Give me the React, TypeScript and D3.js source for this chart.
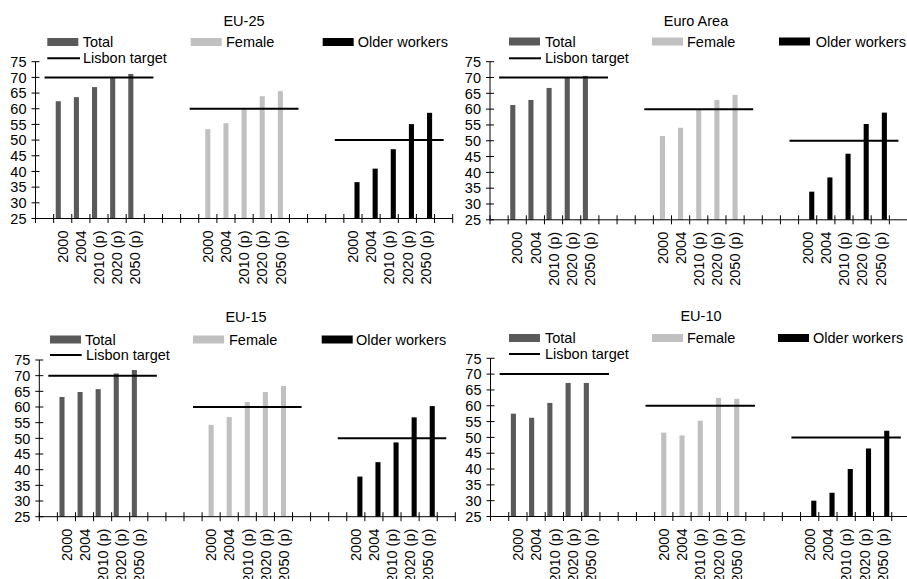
import React from "react";
import * as d3 from "d3";

// Employment rates (%) by year, with the Lisbon targets for each group
const years = ["2000", "2004", "2010 (p)", "2020 (p)", "2050 (p)"];
const seriesNames = ["Total", "Female", "Older workers"];
const seriesColors = ["#5a5a5a", "#c0c0c0", "#000000"];
const lisbonTargets = [70, 60, 50];
const yTicks = [25, 30, 35, 40, 45, 50, 55, 60, 65, 70, 75];

const eu25Total = [62.4, 63.7, 66.9, 70.0, 71.1];
const eu25Female = [53.5, 55.4, 60.2, 64.0, 65.6];
const eu25Older = [36.6, 40.9, 47.1, 55.1, 58.7];

const euroTotal = [61.3, 62.9, 66.7, 69.9, 70.5];
const euroFemale = [51.5, 54.1, 59.8, 62.9, 64.5];
const euroOlder = [33.9, 38.4, 45.9, 55.3, 58.9];

const eu15Total = [63.2, 64.8, 65.7, 70.7, 71.8];
const eu15Female = [54.3, 56.8, 61.6, 64.8, 66.7];
const eu15Older = [37.8, 42.4, 48.7, 56.7, 60.3];

const eu10Total = [57.5, 56.2, 60.9, 67.2, 67.2];
const eu10Female = [51.5, 50.6, 55.3, 62.5, 62.2];
const eu10Older = [30.0, 32.5, 40.0, 46.5, 52.1];

// Category slots along the x axis: one blank, five years per group,
// three blanks between groups, one blank at the end.
const GROUP_STRIDE = 8;
const categories: { key: number; label: string; group: number; year: number }[] = [];
for (let i = 0; i < 23; i++) {
  const g = Math.floor((i - 1) / GROUP_STRIDE);
  const k = (i - 1) - g * GROUP_STRIDE;
  if (i >= 1 && k >= 0 && k < 5 && g < 3) {
    categories.push({ key: i, label: years[k], group: g, year: k });
  } else {
    categories.push({ key: i, label: "", group: -1, year: -1 });
  }
}

const FONT = "'Liberation Sans', Arial, Helvetica, sans-serif";
const FS = 14.5;

type PanelLayout = {
  title: string;
  series: number[][];
  axisX: number;
  right: number;
  y25: number;
  y75: number;
  titleX: number;
  titleY: number;
  swatchX: number[];
  textX: number[];
  row1: number;
  row2: number;
  lineX: [number, number];
  lineTextX: number;
};

const panels: PanelLayout[] = [
  {
    title: "EU-25",
    series: [eu25Total, eu25Female, eu25Older],
    axisX: 35.5, right: 452.7, y25: 218.5, y75: 61.7,
    titleX: 244, titleY: 26,
    swatchX: [47.3, 190.7, 322.7], textX: [82.7, 226, 357.7],
    row1: 42, row2: 58.3, lineX: [47.3, 80], lineTextX: 83,
  },
  {
    title: "Euro Area",
    series: [euroTotal, euroFemale, euroOlder],
    axisX: 490, right: 907.5, y25: 219.8, y75: 61.7,
    titleX: 696, titleY: 26,
    swatchX: [509, 652, 779], textX: [545, 687, 815.7],
    row1: 41.5, row2: 58.3, lineX: [509, 541], lineTextX: 545,
  },
  {
    title: "EU-15",
    series: [eu15Total, eu15Female, eu15Older],
    axisX: 39.3, right: 455.3, y25: 516.7, y75: 360,
    titleX: 246, titleY: 321.7,
    swatchX: [50, 193, 321.7], textX: [85, 229, 356],
    row1: 339.5, row2: 355, lineX: [50, 81.7], lineTextX: 86,
  },
  {
    title: "EU-10",
    series: [eu10Total, eu10Female, eu10Older],
    axisX: 490.5, right: 910, y25: 516.5, y75: 358.3,
    titleX: 701, titleY: 320.7,
    swatchX: [509, 652, 778], textX: [545, 687, 813],
    row1: 338, row2: 354, lineX: [509, 540], lineTextX: 545,
  },
];

// Position of each series bar within its category slot
const slotOffset = [-0.245, 0, 0.225];
const barFrac = 0.28;

function Panel({ p }: { p: PanelLayout }) {
  const x = d3
    .scaleBand<number>()
    .domain(categories.map((c) => c.key))
    .range([p.axisX, p.right])
    .padding(0);
  const step = x.bandwidth();
  const y = d3.scaleLinear().domain([25, 75]).range([p.y25, p.y75]);
  const center = (i: number) => (x(i) as number) + step / 2;
  const bw = step * barFrac;

  const tickXs = d3.range(24).map((i) => p.axisX + i * step);

  return (
    <g>
      <text x={p.titleX} y={p.titleY} textAnchor="middle" fontSize={FS} fontFamily={FONT} fill="#000">
        {p.title}
      </text>

      {/* legend */}
      {seriesNames.map((name, i) => (
        <g key={name}>
          <rect x={p.swatchX[i]} y={p.row1 - 4} width={31} height={8} fill={seriesColors[i]} />
          <text x={p.textX[i]} y={p.row1 + 5} fontSize={FS} fontFamily={FONT} fill="#000">
            {name}
          </text>
        </g>
      ))}
      <line x1={p.lineX[0]} x2={p.lineX[1]} y1={p.row2} y2={p.row2} stroke="#000" strokeWidth={2} />
      <text x={p.lineTextX} y={p.row2 + 5} fontSize={FS} fontFamily={FONT} fill="#000">
        Lisbon target
      </text>

      {/* bars */}
      {categories
        .filter((c) => c.group >= 0)
        .map((c) => {
          const v = p.series[c.group][c.year];
          const cx = center(c.key) + slotOffset[c.group] * step;
          return (
            <rect
              key={c.key}
              x={cx - bw / 2}
              y={y(v)}
              width={bw}
              height={y(25) - y(v)}
              fill={seriesColors[c.group]}
            />
          );
        })}

      {/* Lisbon target lines */}
      {lisbonTargets.map((t, g) => {
        const line = d3
          .line<number>()
          .x((i) => center(i))
          .y(() => y(t));
        const idx = [g * GROUP_STRIDE, g * GROUP_STRIDE + 6];
        return <path key={g} d={line(idx) || ""} stroke="#000" strokeWidth={2} fill="none" />;
      })}

      {/* y axis */}
      <line x1={p.axisX} x2={p.axisX} y1={y(75)} y2={y(25)} stroke="#000" strokeWidth={1} />
      {yTicks.map((t) => (
        <g key={t}>
          <line x1={p.axisX - 4} x2={p.axisX + 4} y1={y(t)} y2={y(t)} stroke="#000" strokeWidth={1} />
          <text
            x={p.axisX - 9}
            y={y(t)}
            dy="0.36em"
            textAnchor="end"
            fontSize={FS}
            fontFamily={FONT}
            fill="#000"
          >
            {t}
          </text>
        </g>
      ))}

      {/* x axis */}
      <line x1={p.axisX} x2={p.right} y1={y(25)} y2={y(25)} stroke="#000" strokeWidth={1} />
      {tickXs.map((tx, i) => (
        <line key={i} x1={tx} x2={tx} y1={y(25) - 4.5} y2={y(25) + 4.5} stroke="#000" strokeWidth={1} />
      ))}
      {categories
        .filter((c) => c.label !== "")
        .map((c) => (
          <text
            key={c.key}
            transform={`translate(${center(c.key)},${y(25) + 12}) rotate(-90)`}
            dy="0.36em"
            textAnchor="end"
            fontSize={FS}
            fontFamily={FONT}
            fill="#000"
          >
            {c.label}
          </text>
        ))}
    </g>
  );
}

export default function App() {
  return (
    <svg
      width={907}
      height={579}
      style={{ position: "absolute", left: 0, top: 0, background: "#fff" }}
    >
      <rect width={907} height={579} fill="#fff" />
      {panels.map((p) => (
        <Panel key={p.title} p={p} />
      ))}
    </svg>
  );
}
